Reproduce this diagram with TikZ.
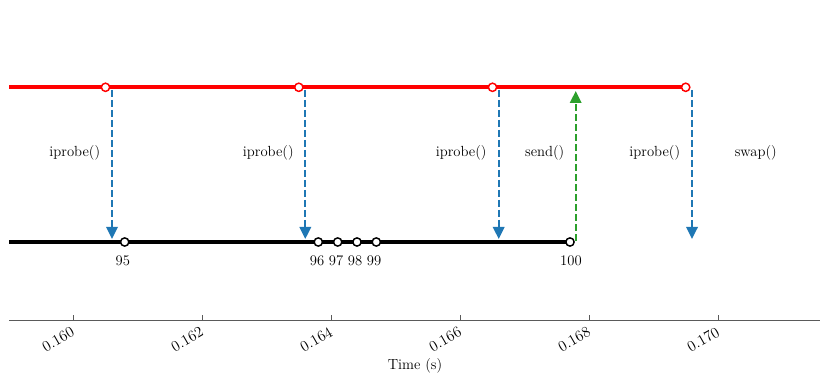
\documentclass[tikz,border=0pt]{standalone}
\usetikzlibrary{arrows.meta,backgrounds}
\definecolor{mblue}{HTML}{1F77B4}
\definecolor{mgreen}{HTML}{2CA02C}
\definecolor{axgray}{HTML}{5A5A5A}
\begin{document}
\begin{tikzpicture}[x=0.75pt,y=-0.75pt,
  font=\fontsize{11}{13}\selectfont,
  rdot/.style={circle,draw=red,fill=white,line width=1.1pt,minimum size=6.2pt,inner sep=0pt},
  kdot/.style={circle,draw=black,fill=white,line width=1.1pt,minimum size=6.2pt,inner sep=0pt},
  redline/.style={red,line width=3pt},
  blackline/.style={black,line width=3pt},
  probe/.style={mblue,line width=1.7pt,dash pattern=on 5.5pt off 2pt,-{Triangle[length=9pt,width=8.5pt]}},
  sendarr/.style={mgreen,line width=1.7pt,dash pattern=on 5.5pt off 2pt,-{Triangle[length=9pt,width=8.5pt]}},
  lbl/.style={inner sep=0pt,anchor=center},
  ticklbl/.style={rotate=30,anchor=north east,inner sep=0pt,font=\fontsize{11.5}{13}\selectfont},
  axis/.style={axgray,line width=0.75pt},
  tick/.style={axgray,line width=0.75pt}]
\useasboundingbox (0,0) rectangle (830,384);
% red timeline markers
\coordinate (rs) at (9,87.3);
\node[rdot] (r1) at (105.5,87.3) {};
\node[rdot] (r2) at (298.8,87.3) {};
\node[rdot] (r3) at (492.5,87.3) {};
\node[rdot] (r4) at (685.7,87.3) {};
% black timeline markers
\coordinate (ks) at (9,242);
\node[kdot] (k95) at (124.7,242) {};
\node[kdot] (k96) at (318.3,242) {};
\node[kdot] (k97) at (337.7,242) {};
\node[kdot] (k98) at (357,242) {};
\node[kdot] (k99) at (376.3,242) {};
\node[kdot] (k100) at (570,242) {};
\begin{pgfonlayer}{background}
\draw[redline] (rs) -- (r4.center);
\draw[blackline] (ks) -- (k100.center);
\end{pgfonlayer}
% number labels
\node[lbl] (n95) at (122.8,261) {95};
\node[lbl] (n96) at (317,261) {96};
\node[lbl] (n97) at (336,261) {97};
\node[lbl] (n98) at (355,261) {98};
\node[lbl] (n99) at (374,261) {99};
\node[lbl] (n100) at (571,261) {100};
% arrows
\coordinate (p1s) at (112,90);   \coordinate (p1e) at (112,239);
\coordinate (p2s) at (305.3,90); \coordinate (p2e) at (305.3,239);
\coordinate (p3s) at (498.7,90); \coordinate (p3e) at (498.7,239);
\coordinate (p4s) at (692,90);   \coordinate (p4e) at (692,239);
\coordinate (gs) at (575.7,241); \coordinate (ge) at (575.7,91);
\draw[probe] (p1s) -- (p1e);
\draw[probe] (p2s) -- (p2e);
\draw[probe] (p3s) -- (p3e);
\draw[probe] (p4s) -- (p4e);
\draw[sendarr] (gs) -- (ge);
% call labels
\node[lbl] (c1) at (74.8,153) {iprobe()};
\node[lbl] (c2) at (268.3,153) {iprobe()};
\node[lbl] (c3) at (461.2,153) {iprobe()};
\node[lbl] (c4) at (544.7,153) {send()};
\node[lbl] (c5) at (654.8,153) {iprobe()};
\node[lbl] (c6) at (755.8,153) {swap()};
% axis
\coordinate (ax0) at (9,320);
\coordinate (ax1) at (820,320);
\draw[axis] (ax0) -- (ax1);
\foreach \t/\lab [count=\i] in {0/0.160,1/0.162,2/0.164,3/0.166,4/0.168,5/0.170}{
  \coordinate (tk\i) at ({73.3+129*\t},320);
  \coordinate (tt\i) at ({73.3+129*\t},315);
  \draw[tick] (tk\i) -- (tt\i);
  \node[ticklbl] (tl\i) at ({70.5+129*\t},326) {\lab};
}
\node[lbl] (xlabel) at (415,366) {Time (s)};
\end{tikzpicture}
\end{document}
